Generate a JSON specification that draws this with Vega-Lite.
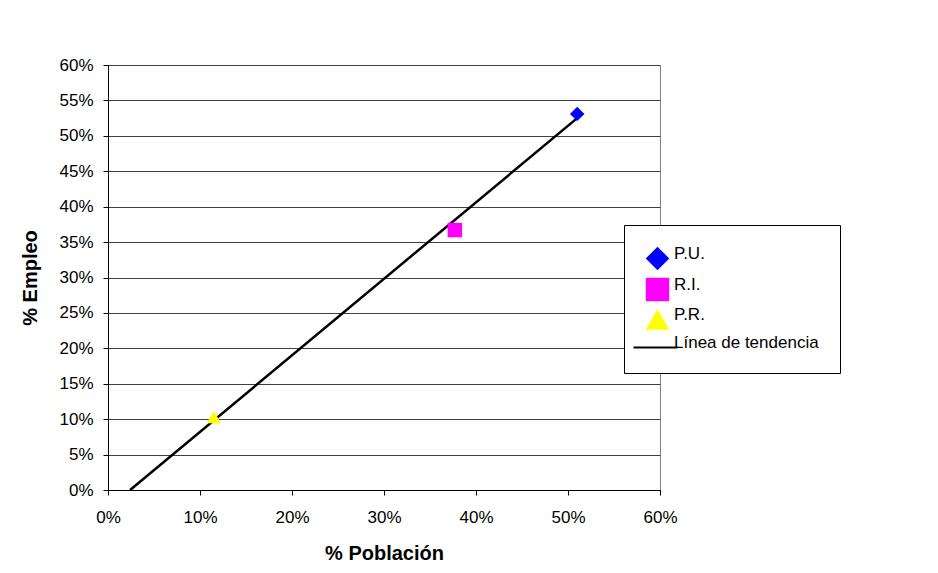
{
  "$schema": "https://vega.github.io/schema/vega-lite/v6.json",
  "autosize": {"type": "none"},
  "padding": {"left": 108, "top": 65, "right": 278, "bottom": 83},
  "width": 552,
  "height": 425,
  "background": "white",
  "config": {
    "font": "Liberation Sans",
    "view": {"stroke": "#808080", "strokeWidth": 1},
    "axis": {"labelFont": "Liberation Sans", "titleFont": "Liberation Sans", "labelFontSize": 17, "labelColor": "black", "titleColor": "black", "domainColor": "black", "tickColor": "black", "gridColor": "#404040", "gridWidth": 1, "gridOpacity": 1, "labelOverlap": false, "labelFlush": false}
  },
  "datasets": {
    "puntos": [
      {"serie": "P.U.", "poblacion": 51.0, "empleo": 53.1},
      {"serie": "R.I.", "poblacion": 37.7, "empleo": 36.7},
      {"serie": "P.R.", "poblacion": 11.5, "empleo": 10.3}
    ],
    "tendencia": [
      {"poblacion": 2.4, "empleo": 0.0},
      {"poblacion": 51.0, "empleo": 52.5}
    ]
  },
  "encoding": {
    "x": {"field": "poblacion", "type": "quantitative", "scale": {"domain": [0, 60], "nice": false},
          "axis": {"tickCount": 6, "labelExpr": "datum.value + '%'", "grid": false, "title": "% Población", "titleFontSize": 20, "titleFontWeight": "bold", "titlePadding": 18, "tickSize": 5, "labelPadding": 14}},
    "y": {"field": "empleo", "type": "quantitative", "scale": {"domain": [0, 60], "nice": false},
          "axis": {"tickCount": 12, "labelExpr": "datum.value + '%'", "grid": true, "title": "% Empleo", "titleFontSize": 20, "titleFontWeight": "bold", "titlePadding": 18, "tickSize": 5, "labelPadding": 10}}
  },
  "layer": [
    {
      "data": {"name": "tendencia"},
      "mark": {"type": "line", "color": "black", "strokeWidth": 2.5}
    },
    {
      "data": {"name": "puntos"},
      "mark": {"type": "point", "filled": true, "opacity": 1, "size": 210},
      "encoding": {
        "color": {"field": "serie", "type": "nominal",
                  "scale": {"domain": ["P.U.", "R.I.", "P.R.", "Línea de tendencia"], "range": ["#0000FF", "#FF00FF", "#FFFF00", "#000000"]},
                  "legend": {"title": null, "orient": "none", "legendX": 516, "legendY": 160, "strokeColor": "black", "fillColor": "white", "padding": 21, "labelFontSize": 17, "labelFont": "Liberation Sans", "labelColor": "black", "symbolSize": 550, "symbolOpacity": 1, "rowPadding": 0, "labelOffset": 4, "labelBaseline": "alphabetic", "labelLimit": 300}},
        "shape": {"field": "serie", "type": "nominal",
                  "scale": {"domain": ["P.U.", "R.I.", "P.R.", "Línea de tendencia"], "range": ["diamond", "square", "triangle-up", "M-2.05,-0.085H1.7V0.085H-2.05Z"]}}
      }
    }
  ]
}
